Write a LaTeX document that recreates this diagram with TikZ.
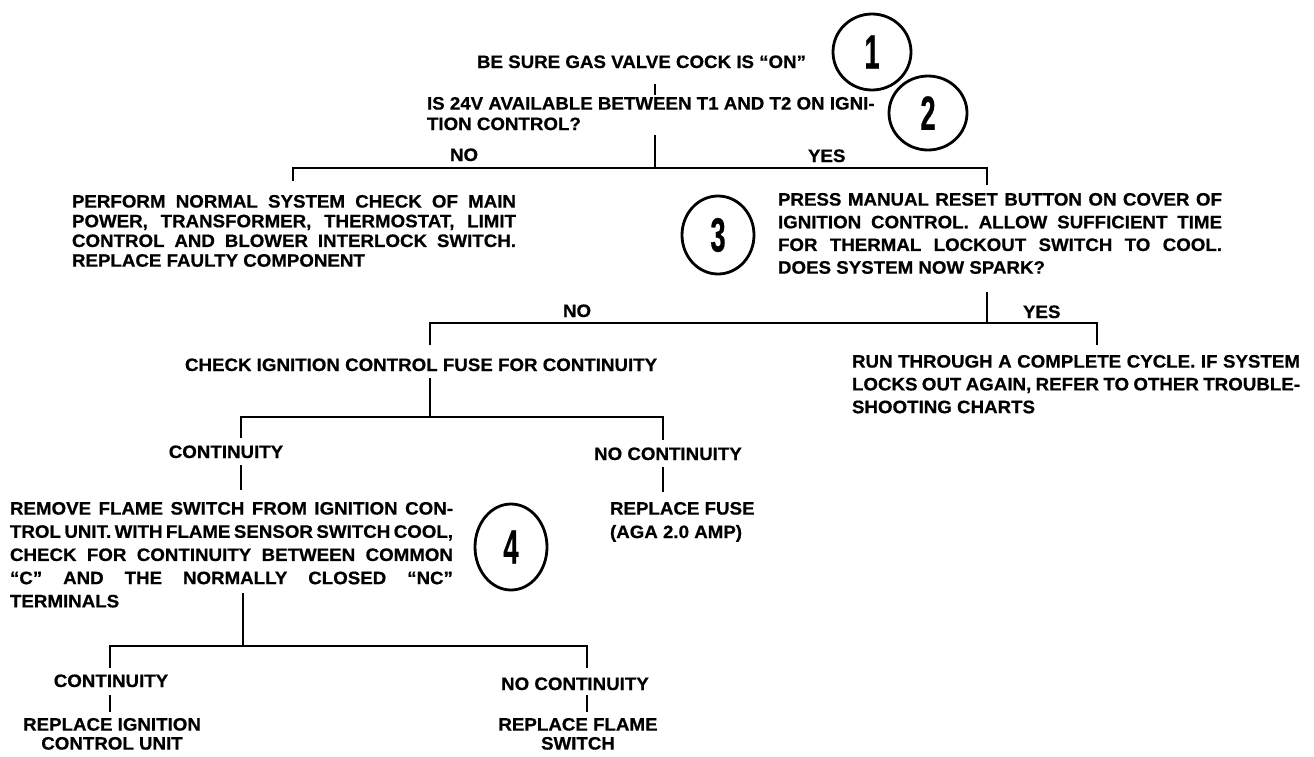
\documentclass[tikz,border=0pt]{standalone}
\usepackage{fontspec}
\usepackage{graphicx}
\usetikzlibrary{shapes.geometric}
\newfontfamily\df{Liberation Sans}[FakeStretch=1.04,BoldFeatures={FakeBold=0.6}]
\newcommand\numf[1]{\scalebox{0.55}[1]{\fontsize{48}{48}\selectfont\df\bfseries #1}}
\newcommand\jl[2]{\makebox[#1][s]{#2}}
\begin{document}
\begin{tikzpicture}[x=1pt,y=-1pt,
  every node/.style={inner sep=0pt,outer sep=0pt},
  lbl/.style={font=\df\bfseries\fontsize{18}{20}\selectfont},
  blk/.style={align=left,anchor=north west},
  wire/.style={line width=1.9pt},
  num/.style={draw,ellipse,line width=2.8pt}]
\useasboundingbox (0,0) rectangle (1314,756);
\fill[white] (0,0) rectangle (1314,756);

% circled step numbers
\node[num,minimum width=78pt,minimum height=76pt] (n1) at (872,52) {\numf{1}};
\node[num,minimum width=78pt,minimum height=74pt] (n2) at (928,113) {\numf{2}};
\node[num,minimum width=72pt,minimum height=78pt] (n3) at (718,235) {\numf{3}};
\node[num,minimum width=72pt,minimum height=86pt] (n4) at (511,547) {\numf{4}};

% texts
\node[lbl,anchor=base west] (q1) at (477,68) {BE SURE GAS VALVE COCK IS “ON”};
\node[lbl,blk,font=\df\bfseries\fontsize{18}{20.5}\selectfont] (q2) at (427,97)
  {IS 24V AVAILABLE BETWEEN T1 AND T2 ON IGNI-\\TION CONTROL?};
\node[lbl,anchor=base west] (no1) at (450,161) {NO};
\node[lbl,anchor=base west] (yes1) at (808,162) {YES};
\node[lbl,blk,font=\df\bfseries\fontsize{18}{19.7}\selectfont] (perf) at (72,195)
  {\jl{444pt}{PERFORM NORMAL SYSTEM CHECK OF MAIN}\\
   \jl{444pt}{POWER, TRANSFORMER, THERMOSTAT, LIMIT}\\
   \jl{444pt}{CONTROL AND BLOWER INTERLOCK SWITCH.}\\
   REPLACE FAULTY COMPONENT};
\node[lbl,blk,font=\df\bfseries\fontsize{18}{22.7}\selectfont] (press) at (778,193)
  {\jl{444pt}{PRESS MANUAL RESET BUTTON ON COVER OF}\\
   \jl{444pt}{IGNITION CONTROL. ALLOW SUFFICIENT TIME}\\
   \jl{444pt}{FOR THERMAL LOCKOUT SWITCH TO COOL.}\\
   DOES SYSTEM NOW SPARK?};
\node[lbl,anchor=base west] (no2) at (563,317) {NO};
\node[lbl,anchor=base west] (yes2) at (1023,318) {YES};
\node[lbl,anchor=base west] (check) at (185,371) {CHECK IGNITION CONTROL FUSE FOR CONTINUITY};
\node[lbl,blk,font=\df\bfseries\fontsize{18}{22.8}\selectfont] (run) at (852,355)
  {\jl{448pt}{RUN THROUGH A COMPLETE CYCLE. IF SYSTEM}\\
   \jl{448pt}{LOCKS OUT AGAIN, REFER TO OTHER TROUBLE-}\\
   SHOOTING CHARTS};
\node[lbl,anchor=base] (cont1) at (226,458) {CONTINUITY};
\node[lbl,anchor=base] (ncont1) at (668,460) {NO CONTINUITY};
\node[lbl,blk,font=\df\bfseries\fontsize{18}{23.5}\selectfont] (fuse) at (610,502)
  {REPLACE FUSE\\(AGA 2.0 AMP)};
\node[lbl,blk,font=\df\bfseries\fontsize{18}{23.2}\selectfont] (remove) at (10,502)
  {\jl{443pt}{REMOVE FLAME SWITCH FROM IGNITION CON-}\\
   \jl{443pt}{TROL UNIT. WITH FLAME SENSOR SWITCH COOL,}\\
   \jl{443pt}{CHECK FOR CONTINUITY BETWEEN COMMON}\\
   \jl{443pt}{“C” AND THE NORMALLY CLOSED “NC”}\\
   TERMINALS};
\node[lbl,anchor=base] (cont2) at (111,687) {CONTINUITY};
\node[lbl,anchor=base] (ncont2) at (575,690) {NO CONTINUITY};
\node[lbl,align=center,anchor=north,font=\df\bfseries\fontsize{18}{19}\selectfont] (rig) at (112,718)
  {REPLACE IGNITION\\CONTROL UNIT};
\node[lbl,align=center,anchor=north,font=\df\bfseries\fontsize{18}{19}\selectfont] (rfs) at (578,718)
  {REPLACE FLAME\\SWITCH};

% connector points
\coordinate (a1) at (655,84);  \coordinate (a2) at (655,95);
\coordinate (b0) at (655,135); \coordinate (b1) at (655,168);
\coordinate (bl) at (293,168); \coordinate (bl2) at (293,181);
\coordinate (br) at (987,168); \coordinate (br2) at (987,185);
\coordinate (c0) at (987,292); \coordinate (c1) at (987,323);
\coordinate (cl) at (430,323); \coordinate (cl2) at (430,345);
\coordinate (cr) at (1097,323); \coordinate (cr2) at (1097,345);
\coordinate (d0) at (430,378); \coordinate (d1) at (430,417);
\coordinate (dl) at (241,417); \coordinate (dl2) at (241,438);
\coordinate (dr) at (663,417); \coordinate (dr2) at (663,440);
\coordinate (e1) at (241,465); \coordinate (e2) at (241,490);
\coordinate (f1) at (663,467); \coordinate (f2) at (663,492);
\coordinate (g0) at (243,593); \coordinate (g1) at (243,646);
\coordinate (gl) at (110,646); \coordinate (gl2) at (110,668);
\coordinate (gr) at (587,646); \coordinate (gr2) at (587,668);
\coordinate (h1) at (110,695); \coordinate (h2) at (110,712);
\coordinate (k1) at (587,695); \coordinate (k2) at (587,712);

\draw[wire] (a1) -- (a2);
\draw[wire] (b0) -- (b1);
\draw[wire] (bl2) -- (bl) -- (br) -- (br2);
\draw[wire] (c0) -- (c1);
\draw[wire] (cl2) -- (cl) -- (cr) -- (cr2);
\draw[wire] (d0) -- (d1);
\draw[wire] (dl2) -- (dl) -- (dr) -- (dr2);
\draw[wire] (e1) -- (e2);
\draw[wire] (f1) -- (f2);
\draw[wire] (g0) -- (g1);
\draw[wire] (gl2) -- (gl) -- (gr) -- (gr2);
\draw[wire] (h1) -- (h2);
\draw[wire] (k1) -- (k2);
\end{tikzpicture}
\end{document}
